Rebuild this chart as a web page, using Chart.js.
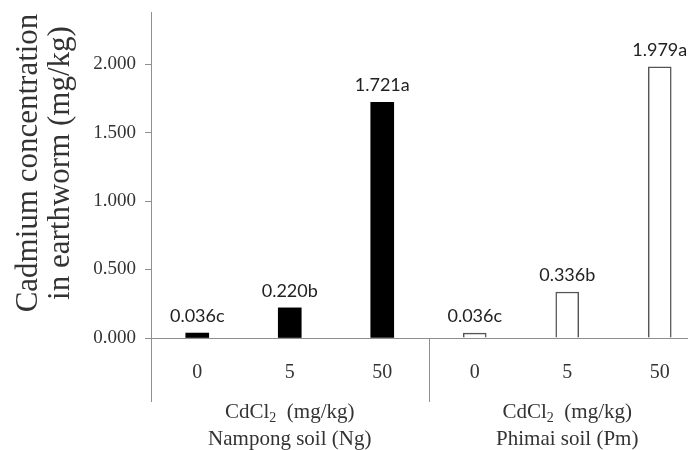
<!DOCTYPE html>
<html lang="en">
<head>
    <meta charset="UTF-8">
    <title>Cadmium concentration in earthworm</title>
    <script src="https://cdn.jsdelivr.net/npm/chart.js"></script>
    <style>
        html, body { margin: 0; padding: 0; background: #fff; overflow: hidden; }
        #wrap { width: 688px; height: 450px; overflow: hidden; }
    </style>
</head>
<body>
<div id="wrap">
    <canvas id="myChart" width="720" height="450"></canvas>
</div>
<script>
    // データ
    const doses = ['0', '5', '50', '0', '5', '50'];
    const soils = ['Nampong soil (Ng)', 'Phimai soil (Pm)'];
    const cdValues = [0.036, 0.220, 1.721, 0.036, 0.336, 1.979];
    const letters = ['c', 'b', 'a', 'c', 'b', 'a'];
    const yTicks = [0, 0.5, 1.0, 1.5, 2.0];

    const serif = '"Liberation Serif", "Times New Roman", serif';
    const axisColor = '#8f8f8f';

    // 軸の下の延長線・グループラベル・値ラベル
    const extras = {
        id: 'extras',
        afterDraw(chart) {
            const ctx = chart.ctx;
            const x = chart.scales.x;
            const y = chart.scales.y;
            const bottom = y.bottom;

            ctx.save();
            ctx.strokeStyle = axisColor;
            ctx.lineWidth = 1;
            const sep = (x.getPixelForValue(2) + x.getPixelForValue(3)) / 2;
            [x.left, sep].forEach(function(px) {
                ctx.beginPath();
                ctx.moveTo(Math.round(px) + 0.5, bottom);
                ctx.lineTo(Math.round(px) + 0.5, bottom + 64);
                ctx.stroke();
            });

            // 値ラベル
            ctx.fillStyle = '#222';
            ctx.font = '18px Lato, "Open Sans", sans-serif';
            ctx.textAlign = 'center';
            ctx.textBaseline = 'alphabetic';
            const meta = chart.getDatasetMeta(0);
            meta.data.forEach(function(bar, i) {
                ctx.fillText(cdValues[i].toFixed(3) + letters[i], bar.x, bar.y - 11);
            });

            // グループラベル
            ctx.fillStyle = '#333';
            soils.forEach(function(name, g) {
                const cx = x.getPixelForValue(g * 3 + 1);
                const a = 'CdCl';
                const b = '  (mg/kg)';
                ctx.font = '21px ' + serif;
                const wa = ctx.measureText(a).width;
                const wb = ctx.measureText(b).width;
                ctx.font = '14px ' + serif;
                const ws = ctx.measureText('2').width;
                let sx = cx - (wa + ws + wb) / 2;
                ctx.textAlign = 'left';
                ctx.font = '21px ' + serif;
                ctx.fillText(a, sx, 418);
                ctx.font = '14px ' + serif;
                ctx.fillText('2', sx + wa, 422);
                ctx.font = '21px ' + serif;
                ctx.fillText(b, sx + wa + ws, 418);
                ctx.textAlign = 'center';
                ctx.fillText(name, cx, 445);
            });

            // 縦軸タイトル
            ctx.font = '31px ' + serif;
            ctx.fillStyle = '#333';
            ctx.translate(0, 163);
            ctx.rotate(-Math.PI / 2);
            ctx.textAlign = 'center';
            ctx.fillText('Cadmium concentration', 0, 37);
            ctx.fillText('in earthworm (mg/kg)', 0, 69);
            ctx.restore();
        }
    };

    const ctxChart = document.getElementById('myChart').getContext('2d');
    const myChart = new Chart(ctxChart, {
        type: 'bar',
        data: {
            labels: doses,
            datasets: [{
                data: cdValues,
                backgroundColor: ['#000', '#000', '#000', '#fff', '#fff', '#fff'],
                borderColor: ['#000', '#000', '#000', '#555', '#555', '#555'],
                borderWidth: [0, 0, 0, 1.5, 1.5, 1.5],
                barThickness: 23
            }]
        },
        options: {
            responsive: false,
            animation: false,
            events: [],
            layout: { padding: { left: 0, right: 14, top: 12, bottom: 0 } },
            plugins: {
                legend: { display: false },
                tooltip: { enabled: false }
            },
            scales: {
                x: {
                    afterFit: function(s) { s.height = 112; },
                    grid: { display: false, drawTicks: false },
                    border: { display: true, color: axisColor, width: 1 },
                    ticks: {
                        padding: 23,
                        color: '#333',
                        font: { family: serif, size: 20 }
                    }
                },
                y: {
                    min: 0,
                    max: 2.38,
                    afterFit: function(s) {
                        s.width = 151;
                        s.paddingTop = 0;
                        s.paddingBottom = 0;
                    },
                    afterBuildTicks: function(s) {
                        s.ticks = yTicks.map(function(v) { return { value: v }; });
                    },
                    grid: {
                        drawOnChartArea: false,
                        drawTicks: true,
                        tickLength: 6,
                        color: axisColor
                    },
                    border: { display: true, color: axisColor, width: 1 },
                    ticks: {
                        padding: 9,
                        color: '#333',
                        font: { family: serif, size: 19 },
                        callback: function(v) { return Number(v).toFixed(3); }
                    }
                }
            }
        },
        plugins: [extras]
    });
</script>
</body>
</html>
